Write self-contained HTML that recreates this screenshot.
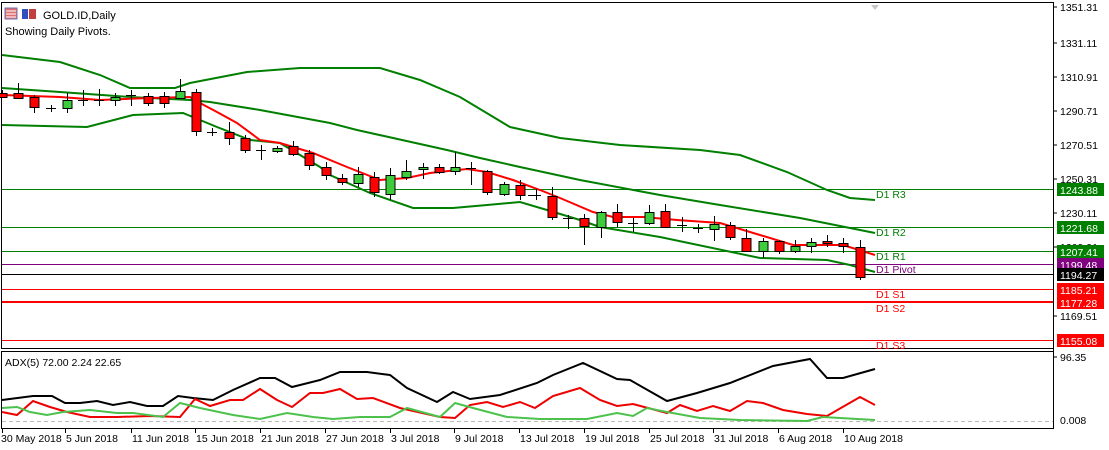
<!DOCTYPE html>
<html><head><meta charset="utf-8"><style>
html,body{margin:0;padding:0;background:#fff;}
svg{display:block;font-family:"Liberation Sans",sans-serif;font-size:10.5px;}
</style></head><body>
<svg width="1109" height="450" viewBox="0 0 1109 450" xmlns="http://www.w3.org/2000/svg">
<rect x="0" y="0" width="1109" height="450" fill="#fff"/>
<!-- frames -->
<rect x="1.5" y="2.5" width="1052" height="346" fill="none" stroke="#000"/>
<rect x="1.5" y="351.5" width="1052" height="77" fill="none" stroke="#000"/>
<polygon points="871,5 879,5 875,10" fill="#c8c8c8"/>
<!-- header -->
<rect x="5" y="8" width="12" height="11" fill="#e07070" stroke="#7070b0"/>
<line x1="6" y1="11" x2="16" y2="11" stroke="#fff"/><line x1="6" y1="14" x2="16" y2="14" stroke="#fff"/><line x1="6" y1="17" x2="16" y2="17" stroke="#fff"/>
<rect x="22" y="9" width="6" height="10" fill="#3050c0"/><rect x="29" y="9" width="7" height="10" fill="#c04040"/>
<text x="43" y="19" font-size="11">GOLD.ID,Daily</text>
<text x="5" y="35" font-size="11">Showing Daily Pivots.</text>
<!-- right axis -->
<g font-size="10.5" fill="#000">
<line x1="1053" y1="7" x2="1057" y2="7" stroke="#000"/><text x="1060" y="11">1351.31</text>
<line x1="1053" y1="43" x2="1057" y2="43" stroke="#000"/><text x="1060" y="47">1331.11</text>
<line x1="1053" y1="77" x2="1057" y2="77" stroke="#000"/><text x="1060" y="81">1310.91</text>
<line x1="1053" y1="111" x2="1057" y2="111" stroke="#000"/><text x="1060" y="115">1290.71</text>
<line x1="1053" y1="145" x2="1057" y2="145" stroke="#000"/><text x="1060" y="149">1270.51</text>
<line x1="1053" y1="179" x2="1057" y2="179" stroke="#000"/><text x="1060" y="183">1250.31</text>
<line x1="1053" y1="213" x2="1057" y2="213" stroke="#000"/><text x="1060" y="217">1230.11</text>
<line x1="1053" y1="247" x2="1057" y2="247" stroke="#000"/><text x="1060" y="251">1209.91</text>
<line x1="1053" y1="316" x2="1057" y2="316" stroke="#000"/><text x="1060" y="320">1169.51</text>
<line x1="1053" y1="357" x2="1057" y2="357" stroke="#000"/><text x="1060" y="361">96.35</text>
<text x="1060" y="424">0.008</text>
</g>
<!-- pivot lines -->
<line x1="2" y1="189.5" x2="1053" y2="189.5" stroke="#007f00"/>
<line x1="2" y1="227.5" x2="1053" y2="227.5" stroke="#007f00"/>
<line x1="2" y1="251.5" x2="1053" y2="251.5" stroke="#007f00"/>
<line x1="2" y1="264.5" x2="1053" y2="264.5" stroke="#800080"/>
<line x1="2" y1="274.5" x2="1053" y2="274.5" stroke="#000"/>
<line x1="2" y1="289.5" x2="1053" y2="289.5" stroke="#f00"/>
<line x1="2" y1="302" x2="1053" y2="302" stroke="#f00" stroke-width="2"/>
<line x1="2" y1="340.5" x2="1053" y2="340.5" stroke="#f00"/>
<g font-size="10.5">
<text x="876" y="198" fill="#007f00">D1 R3</text>
<text x="876" y="236" fill="#007f00">D1 R2</text>
<text x="876" y="260" fill="#007f00">D1 R1</text>
<text x="876" y="273" fill="#800080">D1 Pivot</text>
<text x="876" y="298" fill="#f00">D1 S1</text>
<text x="876" y="312" fill="#f00">D1 S2</text>
<text x="876" y="349" fill="#f00">D1 S3</text>
</g>
<!-- price tags -->
<g font-size="10.5" fill="#fff">
<rect x="1057" y="183" width="47" height="13" fill="#007f00"/><text x="1060" y="194">1243.88</text>
<rect x="1057" y="221" width="47" height="13" fill="#007f00"/><text x="1060" y="232">1221.68</text>
<rect x="1057" y="245" width="47" height="13" fill="#007f00"/><text x="1060" y="256">1207.41</text>
<rect x="1057" y="258" width="47" height="13" fill="#800080"/><text x="1060" y="269">1199.48</text>
<rect x="1057" y="268" width="47" height="13" fill="#000"/><text x="1060" y="279">1194.27</text>
<rect x="1057" y="283" width="47" height="13" fill="#f00"/><text x="1060" y="294">1185.21</text>
<rect x="1057" y="296" width="47" height="13" fill="#f00"/><text x="1060" y="307">1177.28</text>
<rect x="1057" y="334" width="47" height="13" fill="#f00"/><text x="1060" y="345">1155.08</text>
</g>
<line x1="1053.5" y1="2" x2="1053.5" y2="429" stroke="#000"/>
<!-- bollinger -->
<g fill="none" stroke="#007f00" stroke-width="2">
<polyline points="2,55 60,62 100,75 130,88 175,88 190,83 247,72 300,68 380,68 420,80 460,97 490,115 510,127 560,138 620,145 700,150 740,155 787,172 827,190 850,198 875,200"/>
<polyline points="2,88 60,92 130,97 190,100 210,102 260,110 330,123 357,130 447,150 480,158 520,167 580,180 660,195 720,205 800,218 850,228 875,233"/>
<polyline points="2,125 87,127 133,115 183,113 217,127 250,140 280,143 320,167 330,175 370,193 413,208 453,208 487,205 520,202 547,210 580,220 600,227 660,237 760,258 827,260 850,265 875,272"/>
</g>
<polyline fill="none" stroke="#f00" stroke-width="2" points="2,95 60,97 100,100 150,98 190,97 200,103 217,112 237,123 260,140 280,143 313,153 347,167 380,180 407,178 430,173 467,169 487,172 513,180 540,190 560,198 593,212 613,217 643,217 677,220 720,223 760,235 793,245 843,245 875,255"/>
<!-- candles -->
<g stroke="#000" stroke-width="1">
<path d="M2.5 90V98M18.5 83V98M34.5 95V113M51.5 105V112M67.5 93V113M83.5 90V106M99.5 89V106M115.5 93V106M131.5 90V106M148.5 93V106M164.5 92V108M180.5 79V98M196.5 89V136M212.5 128V136M229.5 122V145M245.5 135V153M261.5 145V160M277.5 146V153M293.5 141V156M309.5 150V170M326.5 162V180M342.5 174V185M358.5 167V187M374.5 172V197M390.5 168V200M406.5 160V180M423.5 163V179M439.5 164V174M455.5 152V175M471.5 162V185M487.5 170V195M504.5 182V196M520.5 180V200M536.5 189V200M552.5 187V220M568.5 215V229M584.5 214V245M601.5 211V238M617.5 204V227M633.5 218V232M649.5 205V225M665.5 204V228M682.5 217V232M698.5 224V233M714.5 216V241M730.5 222V240M746.5 229V252M763.5 238V258M779.5 240V254M795.5 240V253M811.5 238V253M827.5 235V247M843.5 238V253M860.5 240V280"/>
<path d="M46 108.5H56M78 100.5H88M94 100.5H104M126 95.5H136M207 132.5H217M256 150.5H266M528 195.5H541M563 218.5H573M628 223.5H638M677 225.5H687M693 228.5H703M466 168.5H476"/>
</g>
<g stroke="#000" stroke-width="1">
<g fill="#f00">
<rect x="-2" y="93.5" width="9" height="4"/>
<rect x="14" y="93.5" width="9" height="5"/>
<rect x="30" y="97.5" width="9" height="10"/>
<rect x="144" y="96.5" width="9" height="7"/>
<rect x="160" y="96.5" width="9" height="7"/>
<rect x="192" y="92.5" width="9" height="39"/>
<rect x="225" y="132.5" width="9" height="6"/>
<rect x="241" y="138.5" width="9" height="12"/>
<rect x="289" y="146.5" width="9" height="8"/>
<rect x="305" y="153.5" width="9" height="12"/>
<rect x="322" y="167.5" width="9" height="8"/>
<rect x="338" y="178.5" width="9" height="4"/>
<rect x="370" y="177.5" width="9" height="15"/>
<rect x="435" y="167.5" width="9" height="5"/>
<rect x="483" y="171.5" width="9" height="21"/>
<rect x="516" y="185.5" width="9" height="10"/>
<rect x="548" y="196.5" width="9" height="21"/>
<rect x="580" y="218.5" width="9" height="8"/>
<rect x="613" y="212.5" width="9" height="10"/>
<rect x="661" y="211.5" width="9" height="16"/>
<rect x="726" y="225.5" width="9" height="12"/>
<rect x="742" y="238.5" width="9" height="13"/>
<rect x="775" y="241.5" width="9" height="10"/>
<rect x="823" y="241.5" width="9" height="2"/>
<rect x="839" y="243.5" width="9" height="3"/>
<rect x="856" y="247.5" width="9" height="30"/>
</g>
<g fill="#3ccc3c">
<rect x="63" y="100.5" width="9" height="8"/>
<rect x="111" y="97.5" width="9" height="3"/>
<rect x="176" y="91.5" width="9" height="7"/>
<rect x="273" y="148.5" width="9" height="3"/>
<rect x="354" y="174.5" width="9" height="9"/>
<rect x="386" y="175.5" width="9" height="19"/>
<rect x="402" y="171.5" width="9" height="6"/>
<rect x="419" y="167.5" width="9" height="2"/>
<rect x="451" y="167.5" width="9" height="4"/>
<rect x="500" y="184.5" width="9" height="10"/>
<rect x="597" y="212.5" width="9" height="15"/>
<rect x="645" y="212.5" width="9" height="11"/>
<rect x="710" y="224.5" width="9" height="5"/>
<rect x="759" y="241.5" width="9" height="10"/>
<rect x="791" y="246.5" width="9" height="5"/>
<rect x="807" y="242.5" width="9" height="4"/>
</g>
</g>
<!-- ADX panel -->
<text x="5" y="366" font-size="10.5">ADX(5) 72.00 2.24 22.65</text>
<line x1="2" y1="421.5" x2="1053" y2="421.5" stroke="#bbb" stroke-dasharray="4,3"/>
<g fill="none" stroke-width="2">
<polyline stroke="#000" points="2,400 33,396 52,396 65,403 80,403 97,401 113,405 130,402 147,406 163,406 178,396 193,398 213,400 233,390 260,378 275,378 292,387 320,380 340,372 367,372 390,375 407,388 437,402 453,392 470,399 500,395 537,383 553,375 583,363 617,379 630,380 667,401 697,393 730,383 773,366 810,359 827,378 843,378 875,369"/>
<polyline stroke="#e00" points="2,412 17,415 33,401 50,407 67,412 90,417 117,417 150,416 180,417 195,399 210,406 230,400 243,400 260,389 277,400 292,407 310,393 323,393 340,389 357,399 373,398 400,408 440,417 455,418 470,405 487,402 503,407 520,402 535,408 553,396 580,388 600,400 617,406 633,404 667,413 680,405 697,411 713,406 730,411 747,401 763,403 783,410 807,414 827,416 860,397 875,405"/>
<polyline stroke="#4cc24c" points="2,408 17,407 30,412 47,415 63,412 90,410 117,413 133,413 163,417 180,403 200,408 233,415 260,419 287,413 313,417 333,419 360,417 390,417 407,408 440,417 455,403 473,408 507,417 540,419 587,419 617,413 633,416 647,408 667,412 700,418 740,420 807,421 823,417 840,418 875,420"/>
</g>
<!-- time axis -->
<g font-size="10.5" stroke="#000">
<path d="M2.5 429V433M65.5 429V433M131.5 429V433M195.5 429V433M260.5 429V433M325.5 429V433M390.5 429V433M454.5 429V433M519.5 429V433M584.5 429V433M649.5 429V433M713.5 429V433M778.5 429V433M843.5 429V433"/>
</g>
<g font-size="10.5" fill="#000">
<text x="1" y="442">30 May 2018</text>
<text x="66" y="442">5 Jun 2018</text>
<text x="132" y="442">11 Jun 2018</text>
<text x="196" y="442">15 Jun 2018</text>
<text x="261" y="442">21 Jun 2018</text>
<text x="326" y="442">27 Jun 2018</text>
<text x="391" y="442">3 Jul 2018</text>
<text x="455" y="442">9 Jul 2018</text>
<text x="520" y="442">13 Jul 2018</text>
<text x="585" y="442">19 Jul 2018</text>
<text x="650" y="442">25 Jul 2018</text>
<text x="714" y="442">31 Jul 2018</text>
<text x="779" y="442">6 Aug 2018</text>
<text x="844" y="442">10 Aug 2018</text>
</g>
</svg>
</body></html>
